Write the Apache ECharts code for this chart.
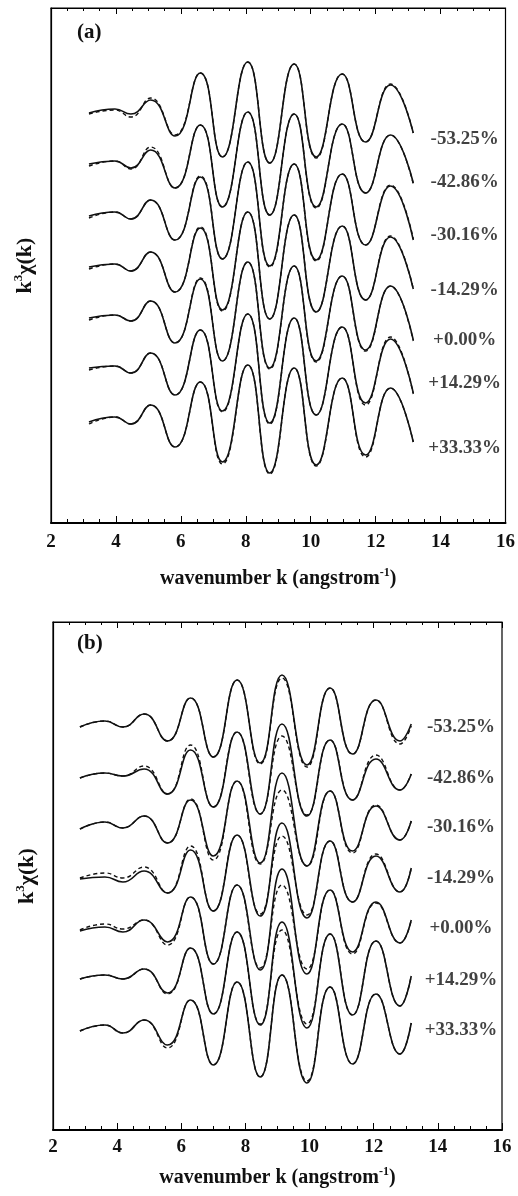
<!DOCTYPE html>
<html>
<head>
<meta charset="utf-8">
<script src="https://cdn.jsdelivr.net/npm/echarts@6/dist/echarts.min.js"></script>
<style>
  html, body { margin: 0; padding: 0; background: #fff; }
  #chart { width: 518px; height: 1196px; }
</style>
</head>
<body>
<div id="chart"></div>
<script>
// strain labels, same for both panels (top to bottom)
const strains = ['-53.25%', '-42.86%', '-30.16%', '-14.29%', '+0.00%', '+14.29%', '+33.33%'];

// ---- panel (a) ----
// k positions of the extrema (angstrom^-1)
const kA = [3.17, 3.97, 4.46, 5.07, 5.82, 6.6, 7.28, 8.06, 8.74, 9.49, 10.17, 10.97, 11.69, 12.46, 13.16];
// vertical offsets of each curve (arb. units)
const offA = [410, 359, 307, 256, 205, 155, 101];
// solid curves (experiment)
const a1 = [0, 4, -1, 13, -23, 40, -44, 51, -50, 49, -44, 39, -29, 28, -20];
const a2 = [0, 3, -4, 14, -24, 39, -43, 52, -51, 50, -43, 40, -29, 29, -19];
const a3 = [0, 4, -3, 16, -24, 39, -43, 54, -50, 52, -44, 42, -29, 30, -24];
const a4 = [0, 3, -4, 15, -25, 39, -43, 55, -52, 52, -45, 41, -33, 30, -22];
const a5 = [0, 3, -3, 17, -25, 39, -43, 56, -50, 52, -43, 42, -32, 32, -22];
const a6 = [0, 2, -5, 15, -27, 38, -43, 54, -55, 50, -47, 41, -35, 29, -25];
const a7 = [0, 5, -2, 17, -25, 40, -40, 57, -51, 54, -43, 44, -33, 34, -20];
// dashed curves (fit)
const a1d = [-1, 3, -4, 15, -22, 40, -44, 51, -50, 49, -45, 39, -29, 29, -20];
const a2d = [-2, 3, -5, 17, -24, 39, -43, 52, -51, 50, -44, 40, -29, 29, -20];
const a3d = [-2, 4, -3, 16, -24, 40, -43, 54, -51, 52, -45, 42, -29, 31, -23];
const a4d = [-2, 3, -4, 15, -25, 40, -44, 55, -52, 52, -45, 41, -33, 31, -22];
const a5d = [-2, 3, -3, 17, -25, 40, -43, 56, -51, 52, -44, 42, -33, 32, -23];
const a6d = [-2, 2, -5, 15, -27, 38, -44, 54, -56, 50, -47, 41, -37, 31, -26];
const a7d = [-2, 5, -2, 17, -25, 40, -42, 57, -52, 54, -44, 44, -35, 34, -20];
// where the strain labels sit
const labKA = 14.74;
const labYA = [384, 341, 288, 233, 183, 140, 75];

// ---- panel (b) ----
const kB = [2.84, 3.62, 4.18, 4.84, 5.57, 6.29, 7.0, 7.74, 8.46, 9.14, 9.92, 10.64, 11.34, 12.07, 12.82, 13.17];
const offB = [403, 352, 301, 251, 199, 151, 99];
const b1 = [0, 6, 0, 13, -14, 29, -30, 47, -36, 52, -38, 39, -27, 27, -14, 3];
const b2 = [0, 5, 2, 9, -16, 28, -29, 46, -36, 54, -38, 38, -22, 19, -12, 4];
const b3 = [0, 7, 1, 13, -14, 29, -27, 48, -34, 56, -37, 38, -22, 23, -11, 8];
const b4 = [0, 2, -3, 8, -14, 29, -32, 44, -37, 56, -39, 38, -23, 23, -13, 11];
const b5 = [0, 4, -1, 11, -11, 34, -33, 46, -39, 62, -43, 41, -21, 29, -12, 11];
const b6 = [0, 4, 0, 10, -14, 31, -35, 47, -46, 57, -49, 45, -36, 38, -27, 3];
const b7 = [0, 6, -2, 11, -14, 31, -34, 49, -46, 56, -52, 44, -33, 37, -23, 8];
const b1d = [0, 6, 0, 13, -14, 29, -30, 47, -37, 49, -40, 39, -27, 27, -17, 1];
const b2d = [0, 5, 2, 12, -16, 33, -29, 46, -36, 42, -37, 38, -22, 23, -12, 4];
const b3d = [0, 7, 1, 13, -14, 30, -31, 48, -35, 39, -37, 38, -24, 24, -11, 8];
const b4d = [1, 6, 1, 12, -14, 33, -32, 44, -35, 43, -36, 38, -23, 25, -13, 11];
const b5d = [1, 7, 2, 11, -14, 34, -33, 46, -37, 46, -38, 41, -23, 28, -12, 11];
const b6d = [0, 4, 0, 10, -15, 31, -35, 47, -45, 49, -45, 45, -36, 38, -27, 3];
const b7d = [0, 6, -2, 11, -17, 31, -34, 49, -46, 56, -50, 44, -33, 37, -23, 8];
const labKB = 14.72;
const labYB = [403, 352, 303, 252, 202, 150, 100];

const xTicks = [2, 4, 6, 8, 10, 12, 14, 16];

const FONT = 'Liberation Serif';
const solidA = [a1, a2, a3, a4, a5, a6, a7];
const dashA = [a1d, a2d, a3d, a4d, a5d, a6d, a7d];
const solidB = [b1, b2, b3, b4, b5, b6, b7];
const dashB = [b1d, b2d, b3d, b4d, b5d, b6d, b7d];

function curve(ks, off, vals, idx, dashed) {
  return {
    type: 'line',
    xAxisIndex: idx * 2,
    yAxisIndex: idx,
    data: ks.map((k, j) => [k, off + vals[j]]),
    smooth: 0.5,
    showSymbol: false,
    silent: true,
    lineStyle: dashed
      ? { color: '#111', width: 1.4, type: [4, 3] }
      : { color: '#111', width: 1.6 },
    z: dashed ? 2 : 3,
  };
}

function labels(k, ys, idx) {
  return {
    type: 'scatter',
    xAxisIndex: idx * 2,
    yAxisIndex: idx,
    symbolSize: 2,
    itemStyle: { color: 'rgba(0,0,0,0)' },
    silent: true,
    data: ys.map((y, i) => ({ value: [k, y], name: strains[i] })),
    label: {
      show: true,
      position: 'inside',
      formatter: p => p.name,
      fontFamily: FONT,
      fontWeight: 'bold',
      fontSize: 19,
      color: '#111',
    },
    z: 5,
  };
}

const series = [];
for (let i = 0; i < 7; i++) {
  series.push(curve(kA, offA[i], dashA[i], 0, true));
  series.push(curve(kA, offA[i], solidA[i], 0, false));
  series.push(curve(kB, offB[i], dashB[i], 1, true));
  series.push(curve(kB, offB[i], solidB[i], 1, false));
}
series.push(labels(labKA, labYA, 0));
series.push(labels(labKB, labYB, 1));

const xName = '{n|wavenumber k (angstrom}{s|-1}{n|)}';
const nameRich = {
  n: { fontFamily: FONT, fontWeight: 'bold', fontSize: 20, color: '#111' },
  s: { fontFamily: FONT, fontWeight: 'bold', fontSize: 12, color: '#111', padding: [0, 0, 12, 0] },
};
const yRich = {
  n: { fontFamily: FONT, fontWeight: 'bold', fontSize: 22, color: '#111' },
  s: { fontFamily: FONT, fontWeight: 'bold', fontSize: 13, color: '#111', padding: [0, 0, 13, 0] },
};

function bottomX(gridIndex, margin, gap) {
  return {
    gridIndex: gridIndex,
    type: 'value',
    min: 2, max: 16, interval: 2,
    position: 'bottom',
    axisLine: { show: true, onZero: false, lineStyle: { color: '#000', width: 2 } },
    axisTick: { show: true, inside: true, length: 7, lineStyle: { color: '#000' } },
    minorTick: { show: true, splitNumber: 4, length: 4, lineStyle: { color: '#000' } },
    axisLabel: {
      margin: margin,
      fontFamily: FONT, fontWeight: 'bold', fontSize: 19, color: '#111',
      formatter: v => (xTicks.indexOf(v) >= 0 ? String(v) : ''),
    },
    splitLine: { show: false },
    name: xName,
    nameLocation: 'middle',
    nameGap: gap,
    nameTextStyle: { rich: nameRich },
  };
}

function topX(gridIndex) {
  return {
    gridIndex: gridIndex,
    type: 'value',
    min: 2, max: 16, interval: 2,
    position: 'top',
    axisLine: { show: true, onZero: false, lineStyle: { color: '#000', width: 1.2 } },
    axisTick: { show: true, inside: true, length: 6, lineStyle: { color: '#000' } },
    minorTick: { show: true, splitNumber: 4, length: 3, lineStyle: { color: '#000' } },
    axisLabel: { show: false },
    splitLine: { show: false },
  };
}

function leftY(gridIndex, max) {
  return {
    gridIndex: gridIndex,
    type: 'value',
    min: 0, max: max,
    axisLine: { show: true, onZero: false, lineStyle: { color: '#000', width: 1.2 } },
    axisTick: { show: false },
    axisLabel: { show: false },
    splitLine: { show: false },
    name: '{n|k}{s|3}{n|χ(k)}',
    nameLocation: 'middle',
    nameGap: 13,
    nameTextStyle: { rich: yRich },
  };
}

const chart = echarts.init(document.getElementById('chart'), null, { renderer: 'canvas' });
chart.setOption({
  backgroundColor: '#fff',
  animation: false,
  title: [
    { text: '(a)', left: 72, top: 17, textStyle: { fontFamily: FONT, fontWeight: 'bold', fontSize: 21, color: '#111' } },
    { text: '(b)', left: 72, top: 628, textStyle: { fontFamily: FONT, fontWeight: 'bold', fontSize: 21, color: '#111' } },
  ],
  grid: [
    { left: 51, right: 11, top: 8, height: 515, show: true, borderColor: '#000', borderWidth: 1.2 },
    { left: 53, right: 16, top: 622, height: 508, show: true, borderColor: '#000', borderWidth: 1.2 },
  ],
  xAxis: [bottomX(0, 10, 44), topX(0), bottomX(1, 8, 36), topX(1)],
  yAxis: [leftY(0, 515), leftY(1, 508)],
  series: series,
});
</script>
</body>
</html>
